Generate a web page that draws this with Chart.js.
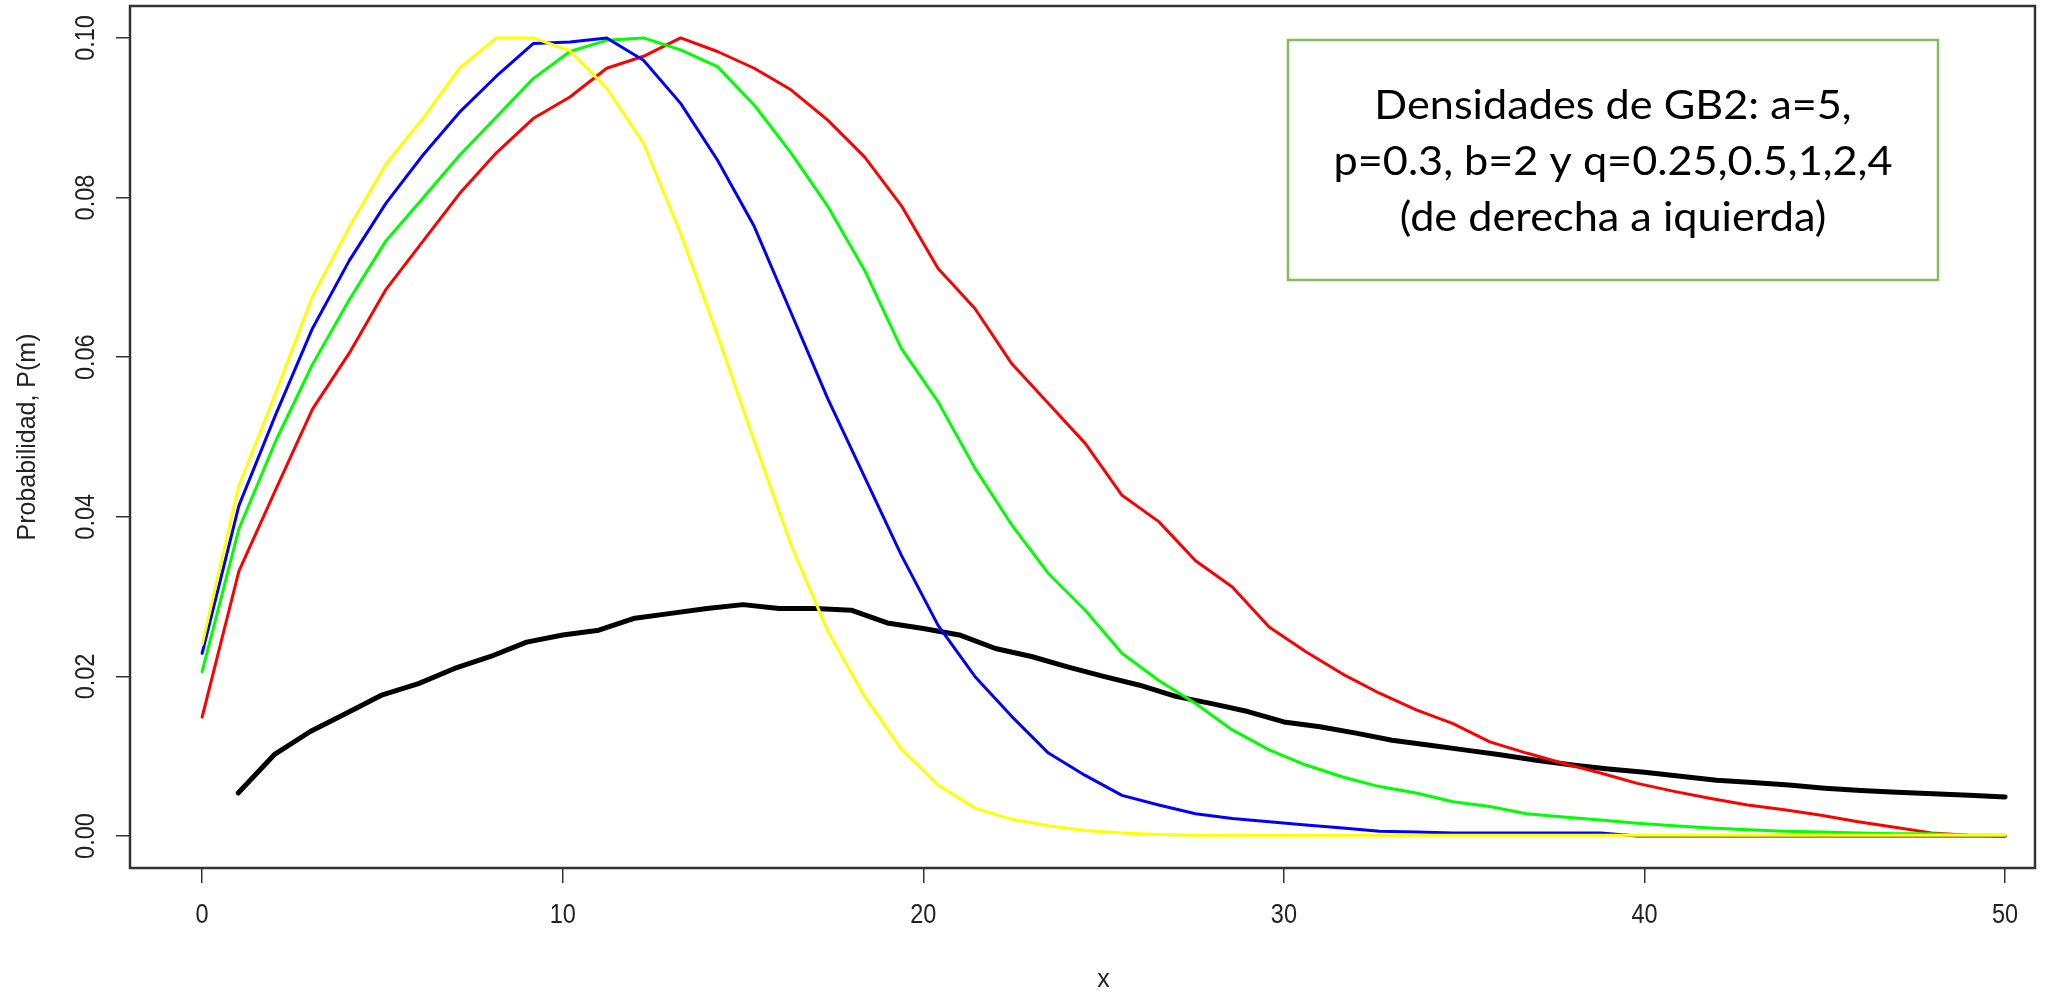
<!DOCTYPE html>
<html>
<head>
<meta charset="utf-8">
<title>Densidades GB2</title>
<script src="https://cdn.jsdelivr.net/npm/chart.js@4.4.1/dist/chart.umd.min.js"></script>
<style>
  html, body { margin: 0; padding: 0; background: #fff; }
  canvas { display: block; }
</style>
</head>
<body>
<canvas id="gb2Chart" width="2072" height="992"></canvas>
<script>
// x grid shared by the four GB2 densities (50 points from 0 to 50)
const xGrid = [0, 1.02, 2.04, 3.06, 4.08, 5.10, 6.12, 7.14, 8.16, 9.18,
  10.20, 11.22, 12.24, 13.27, 14.29, 15.31, 16.33, 17.35, 18.37, 19.39,
  20.41, 21.43, 22.45, 23.47, 24.49, 25.51, 26.53, 27.55, 28.57, 29.59,
  30.61, 31.63, 32.65, 33.67, 34.69, 35.71, 36.73, 37.76, 38.78, 39.80,
  40.82, 41.84, 42.86, 43.88, 44.90, 45.92, 46.94, 47.96, 48.98, 50.00];

// observed frequencies use integer x
const xObs = [1, 2, 3, 4, 5, 6, 7, 8, 9, 10, 11, 12, 13, 14, 15, 16, 17, 18, 19, 20,
  21, 22, 23, 24, 25, 26, 27, 28, 29, 30, 31, 32, 33, 34, 35, 36, 37, 38, 39, 40,
  41, 42, 43, 44, 45, 46, 47, 48, 49, 50];

const yellowVals = [0.0240, 0.0439, 0.0555, 0.0676, 0.0763, 0.0842, 0.0899, 0.0962, 0.1000, 0.1000,
  0.0984, 0.0937, 0.0868, 0.0755, 0.0628, 0.0495, 0.0365, 0.0257, 0.0175, 0.0109,
  0.0064, 0.0035, 0.0021, 0.0013, 0.0007, 0.0004, 0.0002, 0.0001, 0.0001, 0.0001,
  0.0001, 0.0001, 0.0001, 0.0001, 0.0001, 0.0001, 0.0001, 0.0001, 0.0001, 0.0001,
  0.0001, 0.0001, 0.0001, 0.0001, 0.0001, 0.0001, 0.0001, 0.0001, 0.0001, 0.0001];

const blueVals = [0.0229, 0.0414, 0.0528, 0.0636, 0.0721, 0.0793, 0.0853, 0.0907, 0.0952, 0.0993,
  0.0995, 0.1000, 0.0972, 0.0918, 0.0847, 0.0764, 0.0656, 0.0548, 0.0450, 0.0352,
  0.0264, 0.0200, 0.0150, 0.0104, 0.0076, 0.0051, 0.0039, 0.0028, 0.0022, 0.0018,
  0.0014, 0.0010, 0.0006, 0.0005, 0.0004, 0.0004, 0.0004, 0.0004, 0.0004, 0,
  0, 0, 0, 0, 0, 0, 0, 0, 0, 0];

const greenVals = [0.0206, 0.0385, 0.0495, 0.0591, 0.0672, 0.0746, 0.0799, 0.0853, 0.0901, 0.0949,
  0.0983, 0.0997, 0.1000, 0.0985, 0.0964, 0.0916, 0.0856, 0.0789, 0.0709, 0.0611,
  0.0544, 0.0461, 0.0390, 0.0329, 0.0283, 0.0229, 0.0195, 0.0166, 0.0133, 0.0108,
  0.0089, 0.0074, 0.0062, 0.0054, 0.0043, 0.0037, 0.0028, 0.0024, 0.0020, 0.0016,
  0.0013, 0.0010, 0.0008, 0.0006, 0.0005, 0.0004, 0.0003, 0.0003, 0.0001, 0.0001];

const redVals = [0.0149, 0.0332, 0.0434, 0.0535, 0.0605, 0.0685, 0.0745, 0.0805, 0.0856, 0.0899,
  0.0926, 0.0962, 0.0977, 0.1000, 0.0983, 0.0962, 0.0935, 0.0897, 0.0851, 0.0790,
  0.0711, 0.0661, 0.0592, 0.0542, 0.0492, 0.0427, 0.0394, 0.0345, 0.0312, 0.0262,
  0.0231, 0.0203, 0.0179, 0.0158, 0.0141, 0.0118, 0.0104, 0.0091, 0.0079, 0.0066,
  0.0056, 0.0047, 0.0039, 0.0033, 0.0026, 0.0018, 0.0011, 0.0004, 0.0001, 0];

const blackVals = [0.0054, 0.0102, 0.0131, 0.0154, 0.0177, 0.0191, 0.0210, 0.0225, 0.0243, 0.0252,
  0.0258, 0.0273, 0.0279, 0.0285, 0.0290, 0.0285, 0.0285, 0.0283, 0.0267, 0.0260,
  0.0252, 0.0235, 0.0225, 0.0212, 0.0200, 0.0189, 0.0175, 0.0166, 0.0156, 0.0143,
  0.0137, 0.0129, 0.0120, 0.0114, 0.0108, 0.0102, 0.0095, 0.0089, 0.0084, 0.0080,
  0.0075, 0.0070, 0.0067, 0.0064, 0.0060, 0.0057, 0.0055, 0.0053, 0.0051, 0.0049];

const xTicks = [0, 10, 20, 30, 40, 50];
const yTicks = [0, 0.02, 0.04, 0.06, 0.08, 0.10];
const yTickLabels = ["0.00", "0.02", "0.04", "0.06", "0.08", "0.10"];
const noteLines = ["Densidades de GB2: a=5,", "p=0.3, b=2 y q=0.25,0.5,1,2,4", "(de derecha a iquierda)"];

function toPoints(xs, ys) {
  return ys.map((y, i) => ({ x: xs[i], y: y }));
}

function curve(xs, ys, color, width) {
  return {
    data: toPoints(xs, ys),
    borderColor: color,
    borderWidth: width,
    pointRadius: 0,
    tension: 0,
    fill: false,
    borderCapStyle: "round",
    borderJoinStyle: "round"
  };
}

// text helper: squeeze narrows glyphs along the writing direction
function drawLabel(ctx, text, x, y, font, rot, squeeze) {
  ctx.save();
  ctx.translate(x, y);
  if (rot) ctx.rotate(rot);
  ctx.scale(squeeze, 1);
  ctx.font = font;
  ctx.textAlign = "center";
  ctx.textBaseline = "middle";
  ctx.fillText(text, 0, 0);
  ctx.restore();
}

// R-style frame, tick labels, axis titles and the note box
const decorations = {
  id: "decorations",
  afterDraw(chart) {
    const ctx = chart.ctx;
    const a = chart.chartArea;
    const xs = chart.scales.x;
    const ys = chart.scales.y;
    ctx.save();
    ctx.strokeStyle = "#333";
    ctx.lineWidth = 2.5;
    ctx.strokeRect(a.left, a.top, a.right - a.left, a.bottom - a.top);

    ctx.fillStyle = "#222";
    const tickFont = "27px 'Liberation Sans', Arial, sans-serif";
    xTicks.forEach(v => {
      drawLabel(ctx, String(v), xs.getPixelForValue(v), 916, tickFont, 0, 0.87);
    });
    yTicks.forEach((v, i) => {
      drawLabel(ctx, yTickLabels[i], 87, ys.getPixelForValue(v), tickFont, -Math.PI / 2, 0.87);
    });

    const titleFont = "25px 'Liberation Sans', Arial, sans-serif";
    drawLabel(ctx, "x", xs.getPixelForValue(25), 980, titleFont, 0, 1);
    drawLabel(ctx, "Probabilidad, P(m)", 28, (a.top + a.bottom) / 2, titleFont, -Math.PI / 2, 1);

    // note box
    const bx = 1288, by = 40, bw = 650, bh = 240;
    ctx.fillStyle = "#fff";
    ctx.fillRect(bx, by, bw, bh);
    ctx.strokeStyle = "#84BA62";
    ctx.lineWidth = 2.5;
    ctx.strokeRect(bx, by, bw, bh);

    const noteFont = "41px Lato, 'Open Sans', sans-serif";
    ctx.font = noteFont;
    const fit = 559 / ctx.measureText(noteLines[1]).width;
    ctx.fillStyle = "#000";
    noteLines.forEach((t, i) => {
      drawLabel(ctx, t, bx + bw / 2, 106 + i * 56, noteFont, 0, fit);
    });
    ctx.restore();
  }
};

const ctx = document.getElementById("gb2Chart").getContext("2d");

new Chart(ctx, {
  type: "line",
  data: {
    datasets: [
      curve(xGrid, yellowVals, "#FFFF00", 3),
      curve(xGrid, blueVals, "#0000FF", 3),
      curve(xGrid, greenVals, "#00FF00", 3),
      curve(xGrid, redVals, "#FF0000", 3),
      curve(xObs, blackVals, "#000000", 5)
    ]
  },
  options: {
    responsive: false,
    animation: false,
    events: [],
    layout: { padding: { top: 6, right: 37, left: 0, bottom: 0 } },
    plugins: {
      legend: { display: false },
      tooltip: { enabled: false }
    },
    scales: {
      x: {
        type: "linear",
        min: -2,
        max: 50.83,
        afterFit: s => { s.height = 124; },
        afterBuildTicks: s => { s.ticks = xTicks.map(v => ({ value: v })); },
        ticks: { display: false },
        grid: { drawOnChartArea: false, drawTicks: true, tickLength: 15, color: "#333", lineWidth: 1.5 },
        border: { display: false }
      },
      y: {
        type: "linear",
        min: -0.004,
        max: 0.104,
        afterFit: s => { s.width = 130; },
        afterBuildTicks: s => { s.ticks = yTicks.map(v => ({ value: v })); },
        ticks: { display: false },
        grid: { drawOnChartArea: false, drawTicks: true, tickLength: 14, color: "#333", lineWidth: 1.5 },
        border: { display: false }
      }
    }
  },
  plugins: [decorations]
});
</script>
</body>
</html>
